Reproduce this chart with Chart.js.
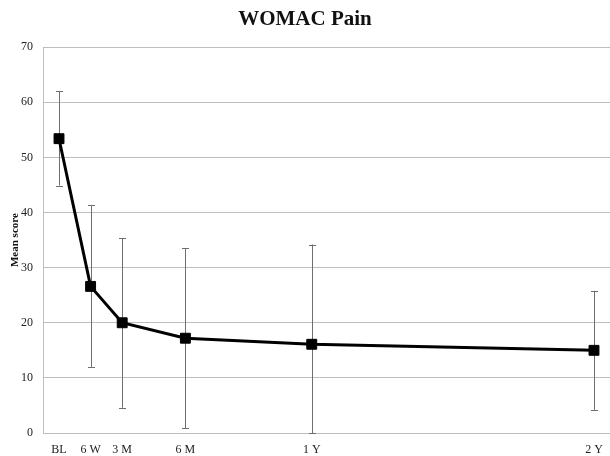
<!DOCTYPE html>
<html>
<head>
<meta charset="utf-8">
<script src="https://cdn.jsdelivr.net/npm/chart.js@4/dist/chart.umd.min.js"></script>
<style>
  html, body { margin: 0; padding: 0; background: #fff; }
  #wrap { width: 610px; height: 456px; }
</style>
</head>
<body>
<div id="wrap"><canvas id="womacChart" width="610" height="456"></canvas></div>
<script>
// time points (x position in months since baseline)
const timeLabels = ['BL', '6 W', '3 M', '6 M', '1 Y', '2 Y'];
const timeMonths = [0, 1.5, 3, 6, 12, 25.4];

// mean WOMAC pain score and error bar ends
const meanScore = [53.4, 26.6, 20.0, 17.2, 16.1, 15.0];
const errUpper = [62.0, 41.3, 35.3, 33.5, 34.2, 25.8];
const errLower = [44.9, 12.0, 4.6, 0.9, 0, 4.2];

const yTicks = [0, 10, 20, 30, 40, 50, 60, 70];

const serif = '"Liberation Serif", "DejaVu Serif", serif';

const errorBars = {
    id: 'errorBars',
    beforeDatasetsDraw(chart) {
        const ctx = chart.ctx;
        const x = chart.scales.x;
        const y = chart.scales.y;
        const cap = 3.5;
        ctx.save();
        ctx.strokeStyle = '#6e6e6e';
        ctx.lineWidth = 1;
        timeMonths.forEach((m, i) => {
            const px = Math.round(x.getPixelForValue(m)) + 0.5;
            const top = y.getPixelForValue(errUpper[i]);
            const bot = y.getPixelForValue(errLower[i]);
            ctx.beginPath();
            ctx.moveTo(px, top);
            ctx.lineTo(px, bot);
            ctx.moveTo(px - cap, Math.round(top) + 0.5);
            ctx.lineTo(px + cap, Math.round(top) + 0.5);
            ctx.moveTo(px - cap, Math.round(bot) + 0.5);
            ctx.lineTo(px + cap, Math.round(bot) + 0.5);
            ctx.stroke();
        });
        ctx.restore();
    }
};

new Chart(document.getElementById('womacChart'), {
    type: 'line',
    data: {
        datasets: [{
            label: 'WOMAC Pain',
            data: timeMonths.map((m, i) => ({ x: m, y: meanScore[i] })),
            borderColor: '#000',
            backgroundColor: '#000',
            borderWidth: 3,
            tension: 0,
            pointStyle: 'rect',
            pointRadius: 7,
            pointBorderWidth: 1,
            pointBorderColor: '#000',
            pointBackgroundColor: '#000'
        }]
    },
    options: {
        responsive: false,
        animation: false,
        layout: { autoPadding: false, padding: { left: 0, right: 0, top: 0, bottom: 0 } },
        plugins: {
            legend: { display: false },
            tooltip: { enabled: false },
            title: {
                display: true,
                text: 'WOMAC Pain',
                color: '#111',
                font: { family: serif, size: 21, weight: 'bold' },
                padding: { top: 7, bottom: 15 }
            }
        },
        scales: {
            x: {
                type: 'linear',
                min: -0.76,
                max: 26.16,
                afterBuildTicks(scale) {
                    scale.ticks = timeMonths.map(v => ({ value: v }));
                },
                afterFit(scale) {
                    scale.height = 23;
                    scale.paddingLeft = 0;
                    scale.paddingRight = 0;
                },
                grid: { display: false, drawTicks: false },
                border: { display: true, color: '#bdbdbd', width: 1 },
                ticks: {
                    autoSkip: false,
                    maxRotation: 0,
                    padding: 10,
                    color: '#222',
                    font: { family: serif, size: 12 },
                    callback: (v) => {
                        const i = timeMonths.indexOf(v);
                        return i >= 0 ? timeLabels[i] : '';
                    }
                }
            },
            y: {
                min: 0,
                max: 70,
                afterBuildTicks(scale) {
                    scale.ticks = yTicks.map(v => ({ value: v }));
                },
                afterFit(scale) { scale.width = 43; },
                grid: { color: '#bdbdbd', lineWidth: 1, drawTicks: false },
                border: { display: true, color: '#bdbdbd', width: 1 },
                ticks: {
                    padding: 10,
                    color: '#222',
                    font: { family: serif, size: 12 }
                },
                title: {
                    display: true,
                    text: 'Mean score',
                    color: '#111',
                    font: { family: serif, size: 11, weight: 'bold' },
                    padding: { top: 9, bottom: 0 }
                }
            }
        }
    },
    plugins: [errorBars]
});
</script>
</body>
</html>
